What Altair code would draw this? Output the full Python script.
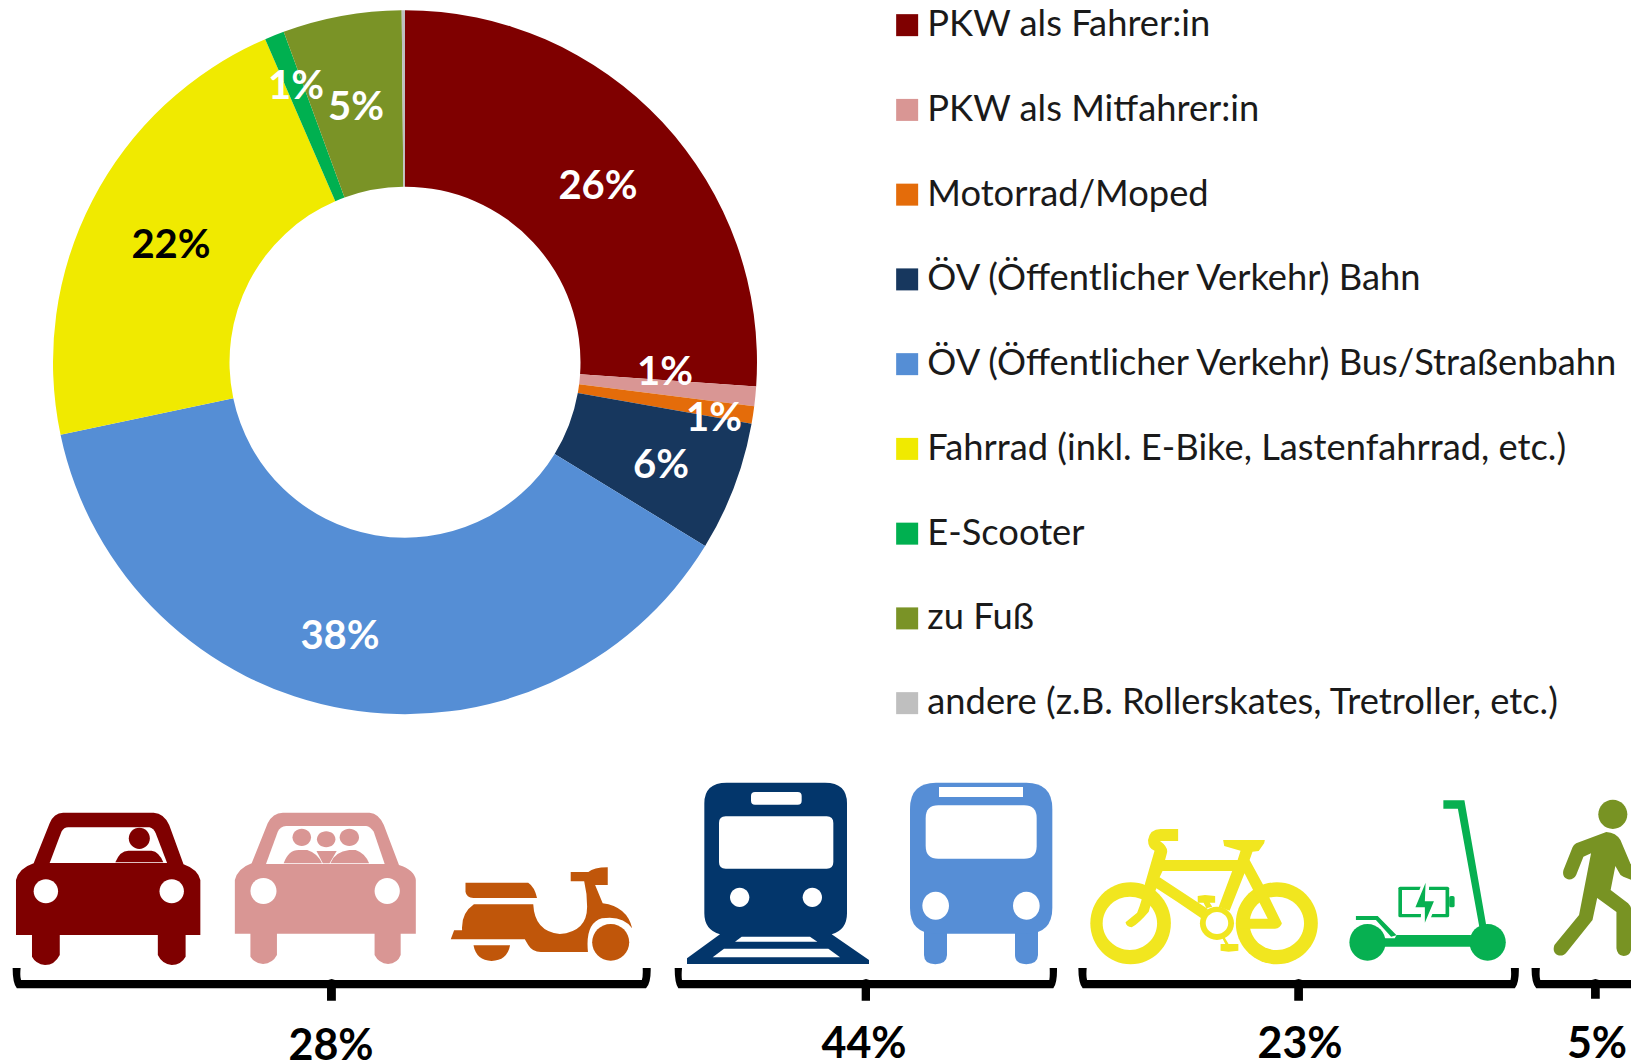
import re
import altair as alt
import pandas as pd

W, H = 1623, 1053

categories = ["PKW als Fahrer:in", "PKW als Mitfahrer:in", "Motorrad/Moped",
              "ÖV (Öffentlicher Verkehr) Bahn", "ÖV (Öffentlicher Verkehr) Bus/Straßenbahn",
              "Fahrrad (inkl. E-Bike, Lastenfahrrad, etc.)", "E-Scooter", "zu Fuß",
              "andere (z.B. Rollerskates, Tretroller, etc.)"]
values = [26.1, 0.9, 0.8, 5.95, 37.95, 21.8, 0.9, 5.45, 0.15]
colors = ["#7f0000", "#d99694", "#e46c0a", "#17375e", "#558ed5",
          "#f0ea00", "#00b050", "#7a9326", "#bfbfbf"]

slice_labels = ["26%", "1%", "1%", "6%", "38%", "22%", "1%", "5%"]
slice_label_colors = ["white", "white", "white", "white", "white", "black", "white", "white"]
slice_label_x = [590, 657, 706, 653, 332, 163, 288, 348]
slice_label_y = [179, 365, 411, 458, 629, 238, 79, 100]

group_labels = ["28%", "44%", "23%", "5%"]
group_label_x = [323, 856, 1292, 1589]
group_label_y = [1039, 1037, 1037, 1037]

FONT = "Lato"

# icon outlines; each crop has its own scale
CROPS = {"a": (2.376, 0, 760), "b": (3.0, 660, 760), "c": (2.756, 1070, 760)}


def sc(crop, s):
    fx, ox, oy = CROPS[crop]
    return re.sub(r"(-?[\d.]+),(-?[\d.]+)",
                  lambda m: f"{float(m[1]) / fx + ox - 8:.2f},{float(m[2]) / 3 + oy - 8:.2f}", s)


def ell(crop, cx, cy, rx, ry):
    k = 0.5523
    return sc(crop, f"M{cx - rx},{cy} C{cx - rx},{cy - k * ry} {cx - k * rx},{cy - ry} {cx},{cy - ry} "
                    f"C{cx + k * rx},{cy - ry} {cx + rx},{cy - k * ry} {cx + rx},{cy} "
                    f"C{cx + rx},{cy + k * ry} {cx + k * rx},{cy + ry} {cx},{cy + ry} "
                    f"C{cx - k * rx},{cy + ry} {cx - rx},{cy + k * ry} {cx - rx},{cy} Z")


def rrect(crop, x, y, w, h, r):
    return sc(crop, f"M{x + r},{y} L{x + w - r},{y} Q{x + w},{y} {x + w},{y + r} L{x + w},{y + h - r} "
                    f"Q{x + w},{y + h} {x + w - r},{y + h} L{x + r},{y + h} Q{x},{y + h} {x},{y + h - r} "
                    f"L{x},{y + r} Q{x},{y} {x + r},{y} Z")


RED, PINK, MOPED, TRAIN, BUS, BIKE, SCOOT, WALK, WHITE, BLACK = (
    "#7f0000", "#d99694", "#c0560a", "#03366b", "#568ed6",
    "#f1e61f", "#07b051", "#789323", "#ffffff", "#000000")

icons = [
    # car, driver
    (RED, sc("a", "M38,525 L38,360 Q45,325 80,310 L118,190 Q128,158 150,158 L365,158 Q390,160 402,195 L436,313 Q470,328 476,360 L476,525 L441,525 L441,590 Q430,615 408,615 Q385,612 375,585 L375,525 L142,525 L142,585 Q130,615 107,615 Q85,612 76,590 L76,525 Z")),
    (WHITE, sc("a", "M118,309 L146,215 Q152,202 162,202 L355,202 Q365,205 370,220 L397,309 Z")),
    (RED, ell("a", 331, 235, 25, 32)),
    (RED, sc("a", "M274,307 Q285,272 305,272 L360,272 Q378,275 388,307 Z")),
    (WHITE, ell("a", 109, 394, 29, 36)),
    (WHITE, ell("a", 408, 394, 29, 36)),
    # car, passenger
    (PINK, sc("a", "M558,521 L558,360 Q565,325 598,310 L636,190 Q648,158 672,158 L878,158 Q900,160 912,195 L948,315 Q985,330 988,360 L988,521 L952,521 L952,585 Q945,610 922,612 Q900,610 890,585 L890,521 L658,521 L658,585 Q648,610 625,612 Q605,610 595,590 L595,521 Z")),
    (WHITE, sc("a", "M632,312 L660,215 Q665,200 680,198 L870,198 Q880,200 888,215 L914,312 Z")),
    (PINK, ell("a", 717, 232, 22, 26)),
    (PINK, ell("a", 775, 238, 22, 24)),
    (PINK, ell("a", 830, 232, 23, 26)),
    (PINK, sc("a", "M674,310 Q685,270 710,270 L730,270 Q755,280 765,310 Z")),
    (PINK, sc("a", "M785,310 Q795,275 830,270 L845,270 Q868,280 877,310 Z")),
    (PINK, sc("a", "M752,273 L800,273 L783,310 L767,310 Z")),
    (WHITE, ell("a", 626, 393, 31, 39)),
    (WHITE, ell("a", 920, 393, 30, 39)),
    # moped
    (MOPED, sc("a", "M1106,368 L1255,368 Q1270,380 1276,414 L1125,414 Q1108,412 1106,395 Z")),
    (MOPED, sc("a", "M1126,433 L1267,433 Q1270,515 1330,522 Q1395,515 1395,440 Q1395,400 1388,364 L1356,364 L1356,336 L1398,336 Q1410,322 1444,322 L1444,375 L1414,375 L1432,430 Q1490,440 1502,505 Q1480,465 1430,475 Q1390,490 1397,576 L1285,576 Q1265,576 1255,555 L1247,538 L1071,538 L1079,511 L1098,511 Q1095,460 1126,433 Z")),
    (MOPED, ell("a", 1451, 547, 44, 55)),
    (MOPED, sc("a", "M1125,556 L1212,556 Q1205,602 1168,603 Q1132,602 1125,556 Z")),
    # train
    (TRAIN, sc("b", "M133,130 Q133,68 200,68 L495,68 Q561,68 561,130 L561,460 Q561,510 515,523 L627,600 L627,612 L81,612 L81,595 L180,523 Q133,510 133,460 Z")),
    (WHITE, rrect("b", 273, 96, 152, 38, 12)),
    (WHITE, rrect("b", 177, 169, 343, 157, 20)),
    (WHITE, ell("b", 239, 412, 29, 29)),
    (WHITE, ell("b", 457, 412, 29, 29)),
    (WHITE, sc("b", "M245,530 L450,530 L472,545 L225,545 Z")),
    (WHITE, sc("b", "M192,566 L505,566 L540,592 L158,592 Z")),
    # bus
    (BUS, sc("b", "M792,510 L861,510 L861,585 Q860,612 826,613 Q792,612 792,585 Z")),
    (BUS, sc("b", "M1065,510 L1134,510 L1134,585 Q1133,612 1099,613 Q1065,612 1065,585 Z")),
    (BUS, rrect("b", 750, 68, 427, 453, 78)),
    (WHITE, sc("b", "M837,81 L1089,81 L1089,111 L837,111 Z")),
    (WHITE, rrect("b", 797, 136, 333, 160, 38)),
    (WHITE, ell("b", 827, 437, 40, 42)),
    (WHITE, ell("b", 1099, 437, 40, 42)),
    # bicycle
    (BIKE, ell("c", 167, 490, 111, 123)),
    (WHITE, ell("c", 165, 490, 75, 80)),
    (BIKE, ell("c", 570, 490, 113, 123)),
    (WHITE, ell("c", 570, 490, 75, 80)),
    (BIKE, sc("c", "M215,240 Q220,207 250,207 L298,207 L298,243 L248,243 Q272,262 267,280 L262,300 L462,300 L470,272 L425,258 L422,240 L537,240 L535,250 L520,273 L503,275 L495,300 L530,370 L584,490 Q580,505 565,506 L460,506 L460,476 L545,476 L481,340 L440,452 L410,440 L447,333 L255,333 L247,352 L380,447 L362,475 L295,425 L238,385 Q225,420 217,455 Q190,490 170,502 Q155,500 153,487 L185,458 Q200,420 207,370 L233,272 Q215,265 215,240 Z")),
    (BIKE, ell("c", 405, 490, 47, 50)),
    (WHITE, ell("c", 405, 489, 31, 33)),
    (BIKE, sc("c", "M352,408 L372,405 L400,408 L400,428 L385,428 L392,440 L376,445 L368,428 L352,428 Z")),
    (BIKE, sc("c", "M425,530 L437,552 L464,552 L464,572 L437,575 L415,572 L415,552 L428,552 L420,535 Z")),
    # e-scooter
    (SCOOT, sc("c", "M1029,121 L1087,121 L1147,495 L1128,500 L1069,146 L1029,146 Z")),
    (SCOOT, ell("c", 820, 547, 50, 55)),
    (SCOOT, ell("c", 1151, 547, 50, 55)),
    (SCOOT, sc("c", "M868,535 L895,535 L900,525 L1105,525 L1105,560 L868,560 Z")),
    (SCOOT, sc("c", "M788,468 L848,468 L900,526 L885,530 L843,480 L788,480 Z")),
    (SCOOT, rrect("c", 1045, 408, 15, 34, 5)),
    (SCOOT, rrect("c", 905, 380, 140, 92, 5)),
    (WHITE, sc("c", "M915,390 L1035,390 L1035,462 L915,462 Z")),
    (WHITE, sc("c", "M968,375 L990,375 L988,415 L1016,415 L990,485 L966,485 L968,452 L942,452 Z")),
    (SCOOT, sc("c", "M980,368 L952,442 L978,442 L978,488 L1003,424 L978,424 Z")),
    # walker
    (WALK, ell("c", 1496, 163, 40, 44)),
    (WALK, sc("c", "M1478,216 Q1505,218 1517,240 L1545,312 L1600,332 L1600,382 L1525,350 Q1515,345 1512,335 L1503,318 L1490,390 L1538,430 Q1547,440 1547,450 L1547,565 Q1545,587 1526,588 Q1508,587 1506,565 L1506,456 L1453,414 L1440,480 L1370,575 Q1360,590 1345,586 Q1328,578 1335,555 L1403,465 L1436,280 L1415,290 L1395,345 Q1388,360 1372,358 Q1355,352 1360,330 L1385,262 Q1388,255 1395,250 Z")),
    # braces
    (BLACK, sc("a", "M30,624 L49,624 Q47,650 50,660 L780,660 L788,657 L796,660 L1525,660 Q1528,650 1527,624 L1546,624 Q1547,670 1535,685 L798,685 L798,722 L777,722 L777,685 L40,685 Q30,670 30,624 Z")),
    (BLACK, sc("b", "M44,624 L66,624 Q64,650 66,660 L608,660 L618,657 L628,660 L1168,660 Q1170,650 1169,624 L1191,624 Q1192,670 1180,685 L630,685 L630,722 L605,722 L605,685 L55,685 Q44,670 44,624 Z")),
    (BLACK, sc("c", "M23,624 L46,624 Q44,650 47,660 L620,660 L630,657 L640,660 L1214,660 Q1217,650 1215,624 L1237,624 Q1238,670 1226,685 L642,685 L642,722 L618,722 L618,685 L35,685 Q23,670 23,624 Z")),
    (BLACK, sc("c", "M1272,624 L1295,624 Q1293,650 1296,660 L1438,660 L1448,657 L1458,660 L1600,660 L1600,685 L1460,685 L1460,716 L1436,716 L1436,685 L1285,685 Q1272,670 1272,624 Z")),
]

x_px = alt.Scale(domain=[0, W], nice=False, zero=False)
y_px = alt.Scale(domain=[H, 0], nice=False, zero=False)

pie_df = pd.DataFrame({"cat": categories, "value": values, "idx": range(len(values))})
donut = alt.Chart(pie_df).mark_arc(innerRadius=175.5, outerRadius=352).encode(
    x=alt.value(397),
    y=alt.value(354.2),
    theta=alt.Theta("value:Q", stack=True, scale=alt.Scale(domain=[0, 100])),
    order=alt.Order("idx:Q"),
    color=alt.Color(
        "cat:N",
        sort=None,
        scale=alt.Scale(domain=categories, range=colors),
        legend=alt.Legend(
            title=None, orient="none", legendX=881, legendY=-1,
            symbolType="square", symbolSize=484, symbolStrokeWidth=0,
            labelFont=FONT, labelFontSize=36.3, labelColor="#1a1a1a", labelLimit=800,
            labelOffset=2, rowPadding=47.75, padding=0,
        ),
    ),
)

slice_df = pd.DataFrame({"t": slice_labels, "x": slice_label_x, "y": slice_label_y, "c": slice_label_colors})
slice_text = alt.Chart(slice_df).mark_text(font=FONT, fontWeight="bold", fontSize=40).encode(
    x=alt.X("x:Q", scale=x_px, axis=None),
    y=alt.Y("y:Q", scale=y_px, axis=None),
    text="t:N",
    color=alt.Color("c:N", scale=None, legend=None),
)

icon_df = pd.DataFrame({"n": range(len(icons)), "color": [i[0] for i in icons], "path": [i[1] for i in icons]})
icon_layer = alt.Chart(icon_df).mark_point(filled=True, opacity=1, size=4, strokeWidth=0).encode(
    x=alt.value(0),
    y=alt.value(0),
    shape=alt.Shape("path:N", scale=None, legend=None),
    fill=alt.Fill("color:N", scale=None, legend=None),
    detail="n:N",
)

group_df = pd.DataFrame({"t": group_labels, "x": group_label_x, "y": group_label_y})
group_text = alt.Chart(group_df).mark_text(font=FONT, fontWeight="bold", fontSize=43, color="black").encode(
    x=alt.X("x:Q", scale=x_px, axis=None),
    y=alt.Y("y:Q", scale=y_px, axis=None),
    text="t:N",
)

chart = alt.layer(donut, slice_text, icon_layer, group_text).resolve_scale(
    color="independent"
).properties(
    width=W, height=H, padding=0, autosize=alt.AutoSizeParams(type="none"),
    background="white",
).configure_view(stroke=None)

chart.save("out.html", embed_options={"renderer": "svg", "actions": False})
